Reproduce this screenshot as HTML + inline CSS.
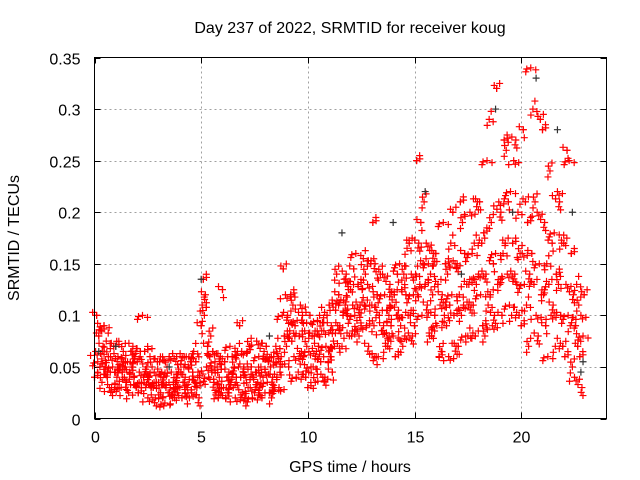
<!DOCTYPE html>
<html><head><meta charset="utf-8"><style>
body{margin:0;background:#fff}
svg{display:block;font-family:"Liberation Sans",sans-serif;font-size:16px}
</style></head><body>
<svg id="chart" width="640" height="480">
<rect width="640" height="480" fill="#fff"/>
<text x="350" y="33" text-anchor="middle">Day 237 of 2022, SRMTID for receiver koug</text>
<text x="350" y="472" text-anchor="middle">GPS time / hours</text>
<text transform="translate(19,238) rotate(-90)" text-anchor="middle">SRMTID / TECUs</text>
<g id="grid"></g>
<g id="ticks"></g>
<g id="red"></g>
<g id="black"></g>
<rect x="94.5" y="57.5" width="512" height="361" fill="none" stroke="#000"/>
</svg>
<script>
const xTicks=[0,5,10,15,20];
const yTicks=[0,0.05,0.1,0.15,0.2,0.25,0.3,0.35];
const yTickLabels=["0","0.05","0.1","0.15","0.2","0.25","0.3","0.35"];
const hours=[];for(let i=0;i<92;i++)hours.push(i*0.25);
const sA=[.04,.035,.03,.03,.03,.03,.025,.03,.025,.03,.02,.02,.02,.015,.02,.02,.02,.02,.025,.02,.09,.04,.025,.02,.02,.025,.02,.025,.02,.02,.025,.02,.025,.02,.03,.06,.05,.04,.045,.04,.03,.035,.04,.04,.045,.07,.07,.08,.08,.08,.09,.07,.06,.06,.07,.07,.06,.07,.08,.08,.09,.1,.08,.08,.06,.065,.06,.07,.07,.08,.08,.08,.09,.08,.09,.1,.1,.11,.1,.1,.09,.07,.1,.08,.09,.06,.07,.07,.06,.05,.04,.03];
const sB=[.055,.05,.04,.045,.04,.04,.035,.04,.035,.04,.03,.03,.025,.025,.03,.03,.03,.03,.035,.03,.1,.05,.035,.03,.03,.035,.03,.04,.03,.03,.035,.03,.035,.03,.04,.08,.07,.06,.065,.06,.05,.05,.055,.055,.06,.09,.09,.1,.1,.095,.11,.09,.09,.085,.09,.09,.08,.09,.1,.1,.12,.13,.11,.1,.09,.1,.09,.1,.1,.11,.11,.11,.12,.11,.12,.13,.13,.14,.14,.13,.13,.11,.13,.12,.12,.1,.11,.1,.1,.09,.07,.06];
const sC=[.065,.07,.05,.05,.05,.045,.045,.05,.045,.05,.04,.035,.035,.03,.035,.035,.035,.04,.045,.035,.11,.06,.045,.04,.04,.045,.04,.05,.04,.04,.045,.04,.045,.04,.05,.1,.085,.075,.08,.07,.065,.065,.07,.07,.075,.105,.1,.11,.11,.11,.125,.11,.11,.1,.105,.1,.1,.105,.12,.12,.14,.15,.13,.12,.11,.12,.11,.12,.12,.13,.13,.13,.14,.14,.15,.16,.16,.17,.17,.16,.16,.14,.16,.15,.15,.13,.14,.13,.13,.12,.09,.08];
const sD=[.08,.085,.06,.06,.06,.055,.055,.06,.055,.065,.05,.045,.045,.04,.045,.045,.045,.05,.055,.045,.12,.07,.055,.05,.055,.06,.05,.065,.05,.05,.06,.05,.055,.05,.06,.12,.1,.09,.095,.085,.08,.08,.085,.085,.09,.12,.115,.125,.125,.13,.14,.13,.15,.12,.12,.115,.12,.125,.14,.14,.17,.19,.15,.14,.13,.15,.14,.15,.15,.16,.16,.17,.17,.18,.19,.21,.2,.21,.22,.2,.21,.19,.21,.2,.19,.17,.18,.17,.17,.16,.11,.1];
const sE=[.1,.09,.075,.07,.07,.065,.065,.07,.065,.1,.06,.055,.055,.05,.06,.06,.06,.06,.065,.055,.135,.08,.065,.06,.125,.07,.065,.09,.065,.07,.075,.065,.07,.06,.07,.145,.12,.11,.11,.1,.1,.095,.1,.1,.11,.14,.135,.14,.145,.16,.155,.15,.19,.14,.14,.13,.14,.15,.165,.17,.25,.21,.17,.16,.16,.19,.17,.2,.21,.19,.2,.21,.21,.25,.29,.32,.27,.26,.25,.27,.28,.34,.3,.29,.28,.24,.22,.21,.26,.25,.13,.12];
const blackT=[0.2,1.0,3.5,5.0,8.2,11.6,14.0,15.5,17.2,18.8,19.6,20.7,21.7,22.4,22.8,22.9];
const blackV=[0.065,0.07,0.05,0.135,0.08,0.18,0.19,0.22,0.14,0.3,0.2,0.33,0.28,0.2,0.045,0.055];
const X0=94.5,X1=606.5,Y0=418.5,Y1=57.5;
const xs=t=>X0+(t/24)*(X1-X0);
const ys=v=>Y0-(v/0.35)*(Y0-Y1);
const NS="http://www.w3.org/2000/svg";
const grid=document.getElementById('grid'),ticks=document.getElementById('ticks');
function line(g,x1,y1,x2,y2,st,dash){const l=document.createElementNS(NS,'line');l.setAttribute('x1',x1);l.setAttribute('y1',y1);l.setAttribute('x2',x2);l.setAttribute('y2',y2);l.setAttribute('stroke',st);if(dash)l.setAttribute('stroke-dasharray',dash);g.appendChild(l);return l;}
function text(x,y,s,anchor){const t=document.createElementNS(NS,'text');t.setAttribute('x',x);t.setAttribute('y',y);t.setAttribute('text-anchor',anchor);t.textContent=s;ticks.appendChild(t);return t;}
xTicks.forEach(t=>{const x=Math.round(xs(t))+0.5;
 if(t>0){const g=line(grid,x,Y0,x,Y1,'#a0a0a0','2,3');}
 line(ticks,x,Y0,x,Y0-6,'#000');line(ticks,x,Y1,x,Y1+6,'#000');
 const l=text(x,Y0+24,String(t),'middle');
 
 });
yTicks.forEach((v,i)=>{const y=Math.round(ys(v))+0.5;
 if(v>0&&v<0.35){const g=line(grid,X0,y,X1,y,'#a0a0a0','2,3');}
 line(ticks,X0,y,X0+6,y,'#000');line(ticks,X1,y,X1-6,y,'#000');
 const l=text(X0-14,y+6,yTickLabels[i],'end');
 
 });
function plus(g,x,y,c){const p=document.createElementNS(NS,'path');
 p.setAttribute('d',`M${x-3.5} ${y}h7M${x} ${y-3.5}v7`);p.setAttribute('stroke',c);p.setAttribute('stroke-width','1.2');g.appendChild(p);}
const red=document.getElementById('red');
const offs=[[0,0],[3,-5],[-2,6],[5,2],[-4,-3],[1,8],[-5,4],[2,-8]];
[sA,sB,sC,sD,sE].forEach((s,k)=>{
 s.forEach((v,i)=>{const j=i*5+k;
  const t=hours[i]+((k*3+i*2)%5)*0.05;
  const x=xs(t),y=ys(v);
  plus(red,x,y,'#f00');
  const o1=offs[(j*3)%8],o2=offs[(j*5+1)%8],o3=offs[(j*7+4)%8];
  plus(red,x+o1[0],y+o1[1],'#f00');
  plus(red,x+o2[0],y+o2[1],'#f00');
  plus(red,x-o3[0]*0.8,y+o3[1]*0.6,'#f00');
 });});
const blk=document.getElementById('black');
blackT.forEach((t,i)=>plus(blk,xs(t),ys(blackV[i]),'#333'));
</script>
</body></html>
